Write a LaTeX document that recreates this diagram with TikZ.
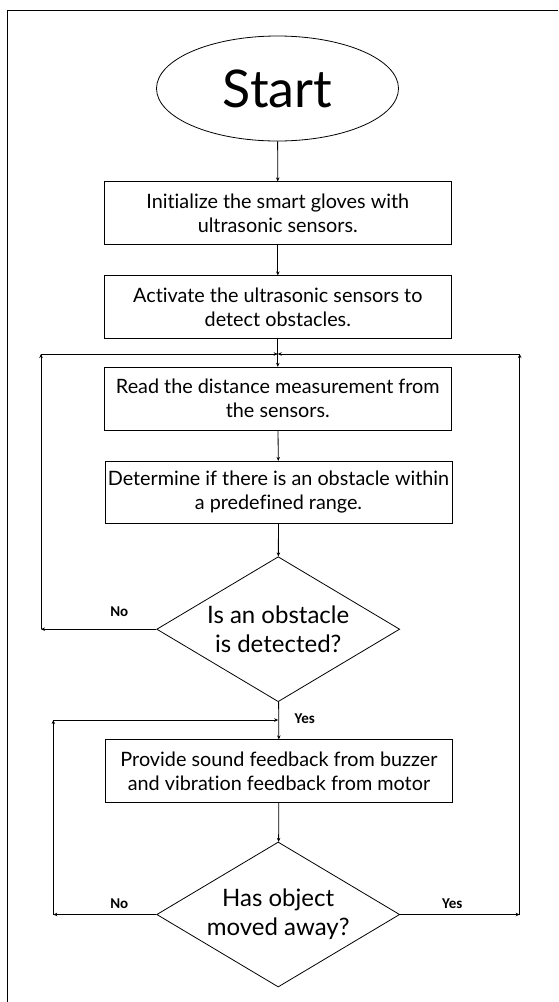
\documentclass[tikz,border=0pt]{standalone}
\usepackage{fontspec}
\setmainfont{Lato}[Ligatures=NoCommon]
\newfontfamily\lblfont{Carlito}
\usetikzlibrary{shapes.geometric,arrows.meta}
\begin{document}
\begin{tikzpicture}[x=1pt,y=-1pt,
  line width=0.8pt,
  arr/.style={-{Stealth[length=4pt,width=3.5pt]}},
  procbox/.style={draw, rectangle, minimum width=347pt, minimum height=63pt, inner sep=0pt, align=center, font=\fontsize{19.8}{24}\selectfont},
  decbox/.style={draw, diamond, minimum width=243pt, minimum height=145pt, inner sep=0pt},
  dectext/.style={align=center, font=\fontsize{24}{29}\selectfont},
  lbl/.style={font=\lblfont\bfseries\fontsize{15}{16}\selectfont}]
\useasboundingbox (0,0) rectangle (558,1002);
\draw[line width=1pt] (7.3,1002) -- (7.3,10) -- (558,10);
\node[draw, ellipse, minimum width=242pt, minimum height=105pt, inner sep=0pt, font=\fontsize{52}{56}\selectfont] (start) at (277.5,88.5) {Start};
\node[procbox] (b1) at (277.8,213.3) {Initialize the smart gloves with\\ultrasonic sensors.};
\node[procbox] (b2) at (277.8,307.3) {Activate the ultrasonic sensors to\\detect obstacles.};
\node[procbox] (b3) at (277.8,398.7) {Read the distance measurement from\\the sensors.};
\node[procbox, minimum height=62pt] (b4) at (278.5,492.3) {Determine if there is an obstacle within\\a predefined range.};
\node[decbox] (d1) at (278.2,629.2) {};
\node[dectext] at (d1) {Is an obstacle\\is detected?};
\node[procbox] (b5) at (279,771.3) {Provide sound feedback from buzzer\\and vibration feedback from motor};
\node[decbox] (d2) at (278.2,914.5) {};
\node[dectext] at (d2) {Has object\\moved away?};
\coordinate (j1) at (277.7,354);
\coordinate (l1) at (41,629.2);
\coordinate (l1t) at (41,354);
\coordinate (r1) at (519.7,914.5);
\coordinate (r1t) at (519.7,354);
\coordinate (j2) at (278.2,720);
\coordinate (l2) at (53.3,914.5);
\coordinate (l2t) at (53.3,720);
\draw[arr] (start) -- (b1);
\draw[arr] (b1) -- (b2);
\draw[arr] (b2) -- (b3);
\draw[arr] (b3) -- (b4);
\draw[arr] (b4) -- (d1);
\draw[arr] (d1) -- (b5);
\draw[arr] (b5) -- (d2);
\draw[arr] (d1.west) -- (l1);
\draw[arr] (l1) -- (l1t);
\draw[arr] (l1t) -- (j1);
\draw[arr] (d2.east) -- (r1);
\draw[arr] (r1) -- (r1t);
\draw[arr] (r1t) -- (j1);
\draw[arr] (d2.west) -- (l2);
\draw[arr] (l2) -- (l2t);
\draw[arr] (l2t) -- (j2);
\node[lbl] (no1) at (119.3,611.7) {No};
\node[lbl] (yes1) at (304.8,719) {Yes};
\node[lbl] (no2) at (119.3,903.3) {No};
\node[lbl] (yes2) at (452.3,903.3) {Yes};
\end{tikzpicture}
\end{document}
